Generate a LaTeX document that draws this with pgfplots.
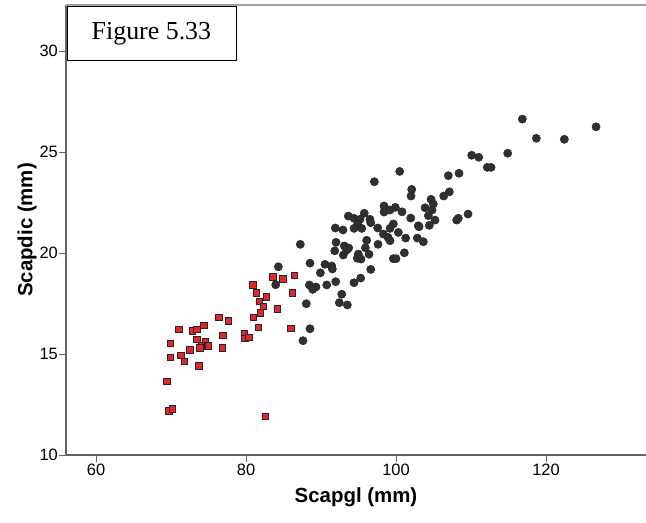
\documentclass[border=0pt]{standalone}
\usepackage{fontspec}
\setmainfont{Liberation Sans}
\newfontfamily\seriffont{Liberation Serif}
\usepackage{pgfplots}
\pgfplotsset{compat=1.18}
\definecolor{dotgray}{RGB}{48,48,48}
\definecolor{sqred}{RGB}{228,38,44}
\definecolor{axgray}{RGB}{100,100,100}
\begin{document}
\begin{tikzpicture}
\begin{axis}[
  scale only axis,
  width=580bp, height=450bp,
  xmin=56, xmax=133.33, ymin=10, ymax=32.28,
  axis lines*=left,
  axis line style={-, draw=axgray, line width=1.3bp},
  xtick={60,80,100,120}, ytick={10,15,20,25,30},
  tick align=outside,
  major tick length=7bp,
  tick style={draw=axgray, line width=1bp},
  /pgf/number format/assume math mode=true,
  ticklabel style={font=\fontsize{16.5}{18}\selectfont},
  xticklabel style={inner sep=1bp, yshift=-1bp},
  yticklabel style={inner sep=1bp},
  xlabel={Scapgl (mm)},
  ylabel={Scapdic (mm)},
  label style={font=\fontsize{20.5}{23}\selectfont\bfseries},
  xlabel style={at={(axis description cs:0.5,0)}, anchor=center, inner sep=0pt, yshift=-42bp},
  ylabel style={at={(axis description cs:0,0.5)}, anchor=center, inner sep=0pt, rotate=0, yshift=39bp},
  clip=false,
]
\coordinate (ll) at (rel axis cs:0,0);
\coordinate (ur) at (rel axis cs:1,1);
\draw[draw=gray!75, line width=1.5bp] (rel axis cs:0,1) -- (rel axis cs:1,1);
\addplot[only marks, mark=*, mark size=4.1bp, mark options={fill=dotgray, draw=black!85, line width=0.5bp}] coordinates {
(116.84,26.63) (126.67,26.25) (118.71,25.68) (122.44,25.63) (114.89,24.94)
(110.09,24.84) (111.03,24.74) (112.17,24.24) (112.67,24.24) (106.97,23.83)
(108.40,23.95) (100.49,24.04) (97.11,23.53) (102.09,23.15) (102.00,22.82)
(106.36,22.82) (107.11,23.03) (104.67,22.66) (104.97,22.43) (103.87,22.24)
(104.80,22.13) (104.31,21.85) (105.20,21.63) (104.44,21.37) (102.97,21.35)
(103.07,21.30) (101.96,21.73) (100.80,22.04) (99.91,22.26) (98.40,22.33)
(99.20,22.13) (98.40,22.03) (95.77,21.97) (93.64,21.83) (94.40,21.72)
(95.20,21.67) (96.53,21.67) (96.63,21.50) (94.89,21.42) (91.91,21.24)
(92.93,21.14) (94.40,21.22) (95.43,21.22) (97.56,21.24) (99.20,21.22)
(99.64,21.44) (100.31,21.02) (98.31,20.94) (98.93,20.78) (99.20,20.61)
(101.29,20.74) (102.84,20.74) (103.64,20.56) (108.09,21.63) (108.31,21.72)
(109.60,21.93) (96.09,20.63) (92.00,20.53) (93.11,20.35) (93.69,20.25)
(93.43,20.15) (91.83,20.11) (92.97,19.90) (95.91,20.26) (96.40,19.94)
(94.97,19.95) (94.84,19.74) (95.33,19.70) (97.60,20.43) (99.64,19.72)
(100.00,19.72) (101.11,20.01) (87.24,20.43) (88.53,19.50) (90.53,19.44)
(91.43,19.36) (91.51,19.21) (89.91,19.02) (96.63,19.19) (95.29,18.76)
(94.40,18.53) (91.96,18.58) (90.76,18.42) (88.44,18.42) (89.33,18.32)
(88.89,18.20) (88.04,17.49) (92.76,17.96) (92.44,17.54) (93.51,17.43)
(88.53,16.25) (87.60,15.66) (84.31,19.32) (83.96,18.43)
};
\addplot[only marks, mark=square*, mark size=3.2bp, mark options={fill=sqred, draw=black!85, line width=0.9bp}] coordinates {
(71.07,16.22) (72.84,16.14) (73.47,16.22) (74.40,16.40) (76.40,16.82)
(77.69,16.63) (69.91,15.51) (73.47,15.71) (74.63,15.61) (74.09,15.40)
(75.03,15.40) (73.87,15.31) (72.53,15.21) (76.93,15.91) (76.84,15.31)
(69.96,14.82) (71.33,14.92) (71.83,14.62) (73.73,14.41) (69.47,13.63)
(69.73,12.19) (70.23,12.29) (82.63,11.92) (80.93,18.42) (83.60,18.81)
(84.93,18.71) (86.44,18.90) (81.37,18.02) (82.76,17.82) (81.83,17.61)
(82.36,17.36) (84.17,17.23) (86.23,18.02) (81.96,17.03) (81.03,16.82)
(81.69,16.32) (79.83,16.02) (79.87,15.78) (80.40,15.83) (86.00,16.27)
};
\node[draw=black, line width=0.9bp, fill=white, anchor=north west, minimum width=169bp, minimum height=54bp, inner sep=0pt, font=\seriffont\fontsize{26}{28}\selectfont] at ([shift={(0.5bp,-1.5bp)}]rel axis cs:0,1) {Figure 5.33};
\end{axis}
\pgfresetboundingbox
\path[use as bounding box] ([shift={(-66bp,-67bp)}]ll) rectangle ([shift={(0bp,5bp)}]ur);
\end{tikzpicture}
\end{document}
